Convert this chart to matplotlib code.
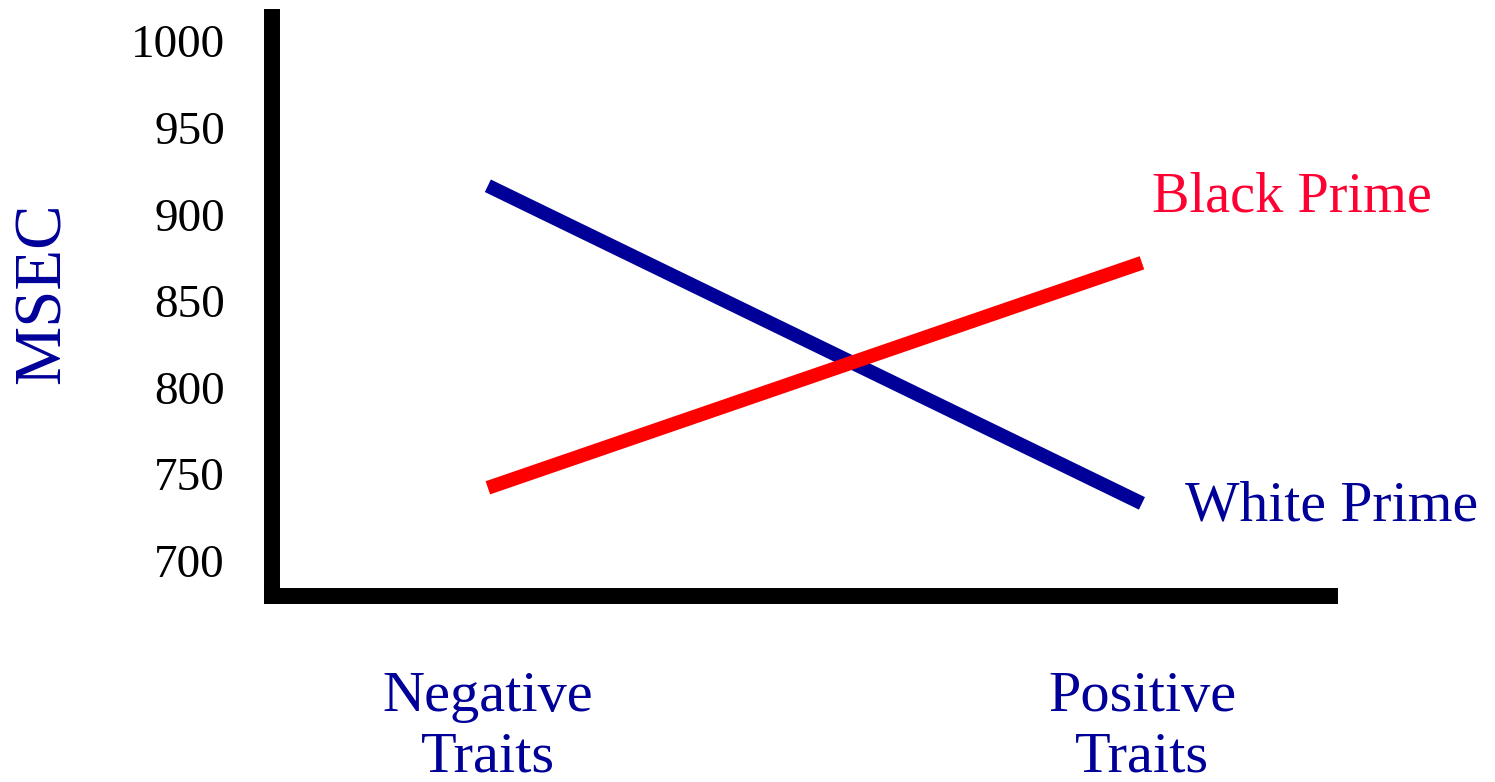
import matplotlib
matplotlib.use("Agg")
import matplotlib.pyplot as plt

# Data
categories = ["Negative\nTraits", "Positive\nTraits"]
white_prime = [916.5, 733]
black_prime = [742, 872]
yticks = [700, 750, 800, 850, 900, 950, 1000]

plt.rcParams['font.family'] = ['Liberation Serif', 'DejaVu Serif']

fig = plt.figure(figsize=(14.95, 7.82), dpi=100)
ax = fig.add_axes([272/1495, (782-596)/782, (1330-272)/1495, (596-17)/782])

x = list(range(len(categories)))
ax.plot(x, white_prime, color='#000099', lw=10, solid_capstyle='butt')
ax.plot(x, black_prime, color='#FF0000', lw=10, solid_capstyle='butt')

ax.set_xlim(-0.330, 1.2875)
ax.set_ylim(679.5, 1014)

for s in ['top', 'right']:
    ax.spines[s].set_visible(False)
for s in ['left', 'bottom']:
    ax.spines[s].set_linewidth(11.5)
    ax.spines[s].set_capstyle('projecting')
    ax.spines[s].set_color('black')

ax.set_yticks(yticks)
ax.set_yticklabels([str(v) for v in yticks])
ax.tick_params(axis='y', length=0, pad=34, labelsize=34, colors='black')

ax.set_xticks(x)
ax.set_xticklabels(categories, color='#000099', fontsize=42, linespacing=1.2)
ax.tick_params(axis='x', length=0, pad=54)

fig.text(43/1495, 1 - 293/782, "MSEC", color='#000099', fontsize=48,
         rotation=90, ha='center', va='center')

ax.text(1.015, 901.4, "Black Prime", color='#FF0033', fontsize=40.5, ha='left', va='baseline')
ax.text(1.066, 723.4, "White Prime", color='#000099', fontsize=41.5, ha='left', va='baseline')

fig.savefig("out.png", dpi=100)
